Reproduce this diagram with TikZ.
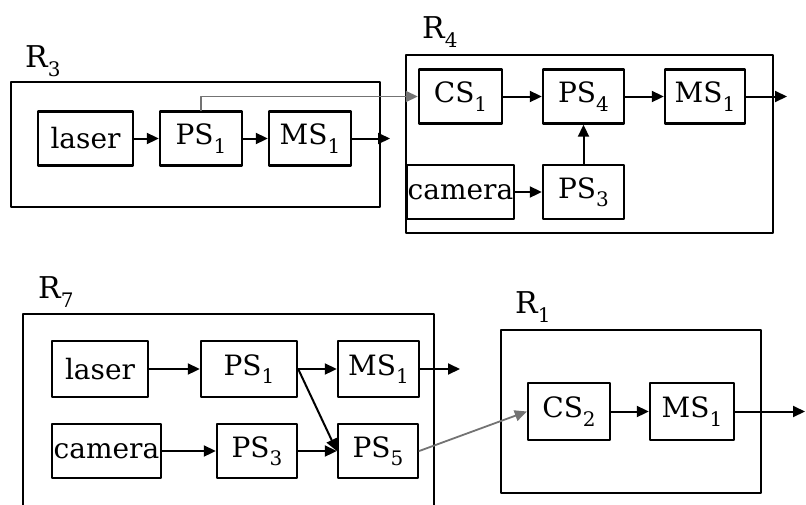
\documentclass[tikz,border=0pt]{standalone}
\usepackage{fontspec}
\setmainfont{DejaVu Serif}
\usetikzlibrary{arrows.meta}
\newcommand{\lbl}[2]{#1\raisebox{-0.3em}{\fontsize{20}{22}\selectfont #2}}
\begin{document}
\begin{tikzpicture}[x=1pt,y=-1pt,line cap=round,line join=round,
  block/.style={draw,line width=2.4pt,inner sep=0pt,minimum height=54pt,font=\fontsize{28}{32}\selectfont},
  frame/.style={line width=2.4pt},
  flow/.style={line width=2pt,-{Triangle[length=12pt,width=11pt]}},
  link/.style={line width=1.8pt,draw=black!55,-{Triangle[length=12pt,width=11pt]}},
  tag/.style={anchor=base west,inner sep=0pt,font=\fontsize{30}{34}\selectfont}]
  \useasboundingbox (0,0) rectangle (806,504);
  % R3
  \draw[frame] (11,82) rectangle (380,207);
  \node[tag] (r3) at (25,67) {\lbl{R}{3}};
  \node[block,minimum width=95pt] (laserA) at (85.5,138.5) {laser};
  \node[block,minimum width=82pt] (psA) at (201,138.5) {\lbl{PS}{1}};
  \node[block,minimum width=82pt] (msA) at (310,138.5) {\lbl{MS}{1}};
  \coordinate (outA) at (390,138.5);
  \draw[flow] (laserA) -- (psA);
  \draw[flow] (psA) -- (msA);
  \draw[flow] (msA) -- (outA);
  % R4
  \draw[frame] (406,55) rectangle (773,233);
  \node[tag] (r4) at (422,38) {\lbl{R}{4}};
  \node[block,minimum width=83pt] (csB) at (460.5,96.5) {\lbl{CS}{1}};
  \node[block,minimum width=81pt] (psB) at (583.5,96.5) {\lbl{PS}{4}};
  \node[block,minimum width=80pt] (msB) at (705,96.5) {\lbl{MS}{1}};
  \node[block,minimum width=107pt] (camB) at (460.5,192) {camera};
  \node[block,minimum width=81pt] (pscB) at (583.5,192) {\lbl{PS}{3}};
  \coordinate (outB) at (787,96.5);
  \draw[flow] (csB) -- (psB);
  \draw[flow] (psB) -- (msB);
  \draw[flow] (msB) -- (outB);
  \draw[flow] (camB) -- (pscB);
  \draw[flow] (pscB) -- (psB);
  \draw[link] (psA.north) |- (csB.west);
  % R7
  \draw[frame] (23,506) -- (23,314) -- (434,314) -- (434,506);
  \node[tag] (r7) at (38,298) {\lbl{R}{7}};
  \node[block,minimum width=96pt,minimum height=56pt] (laserC) at (100,369) {laser};
  \node[block,minimum width=96pt,minimum height=56pt] (psC) at (249,369) {\lbl{PS}{1}};
  \node[block,minimum width=81pt,minimum height=56pt] (msC) at (378.5,369) {\lbl{MS}{1}};
  \node[block,minimum width=109pt] (camC) at (106.5,451) {camera};
  \node[block,minimum width=80pt] (pscC) at (257,451) {\lbl{PS}{3}};
  \node[block,minimum width=80pt] (psfC) at (378,451) {\lbl{PS}{5}};
  \coordinate (outC) at (460,369);
  \draw[flow] (laserC) -- (psC);
  \draw[flow] (psC) -- (msC);
  \draw[flow] (msC) -- (outC);
  \draw[flow] (camC) -- (pscC);
  \draw[flow] (pscC) -- (psfC);
  \draw[flow] (psC.east) -- (psfC.west);
  % R1
  \draw[frame] (501,330) rectangle (761,493);
  \node[tag] (r1) at (515,313) {\lbl{R}{1}};
  \node[block,minimum width=82pt,minimum height=57pt] (csD) at (569,411.5) {\lbl{CS}{2}};
  \node[block,minimum width=84pt,minimum height=57pt] (msD) at (692,411.5) {\lbl{MS}{1}};
  \coordinate (outD) at (805,411.5);
  \draw[flow] (csD) -- (msD);
  \draw[flow] (msD) -- (outD);
  \draw[link] (psfC.east) -- (csD.west);
\end{tikzpicture}
\end{document}
